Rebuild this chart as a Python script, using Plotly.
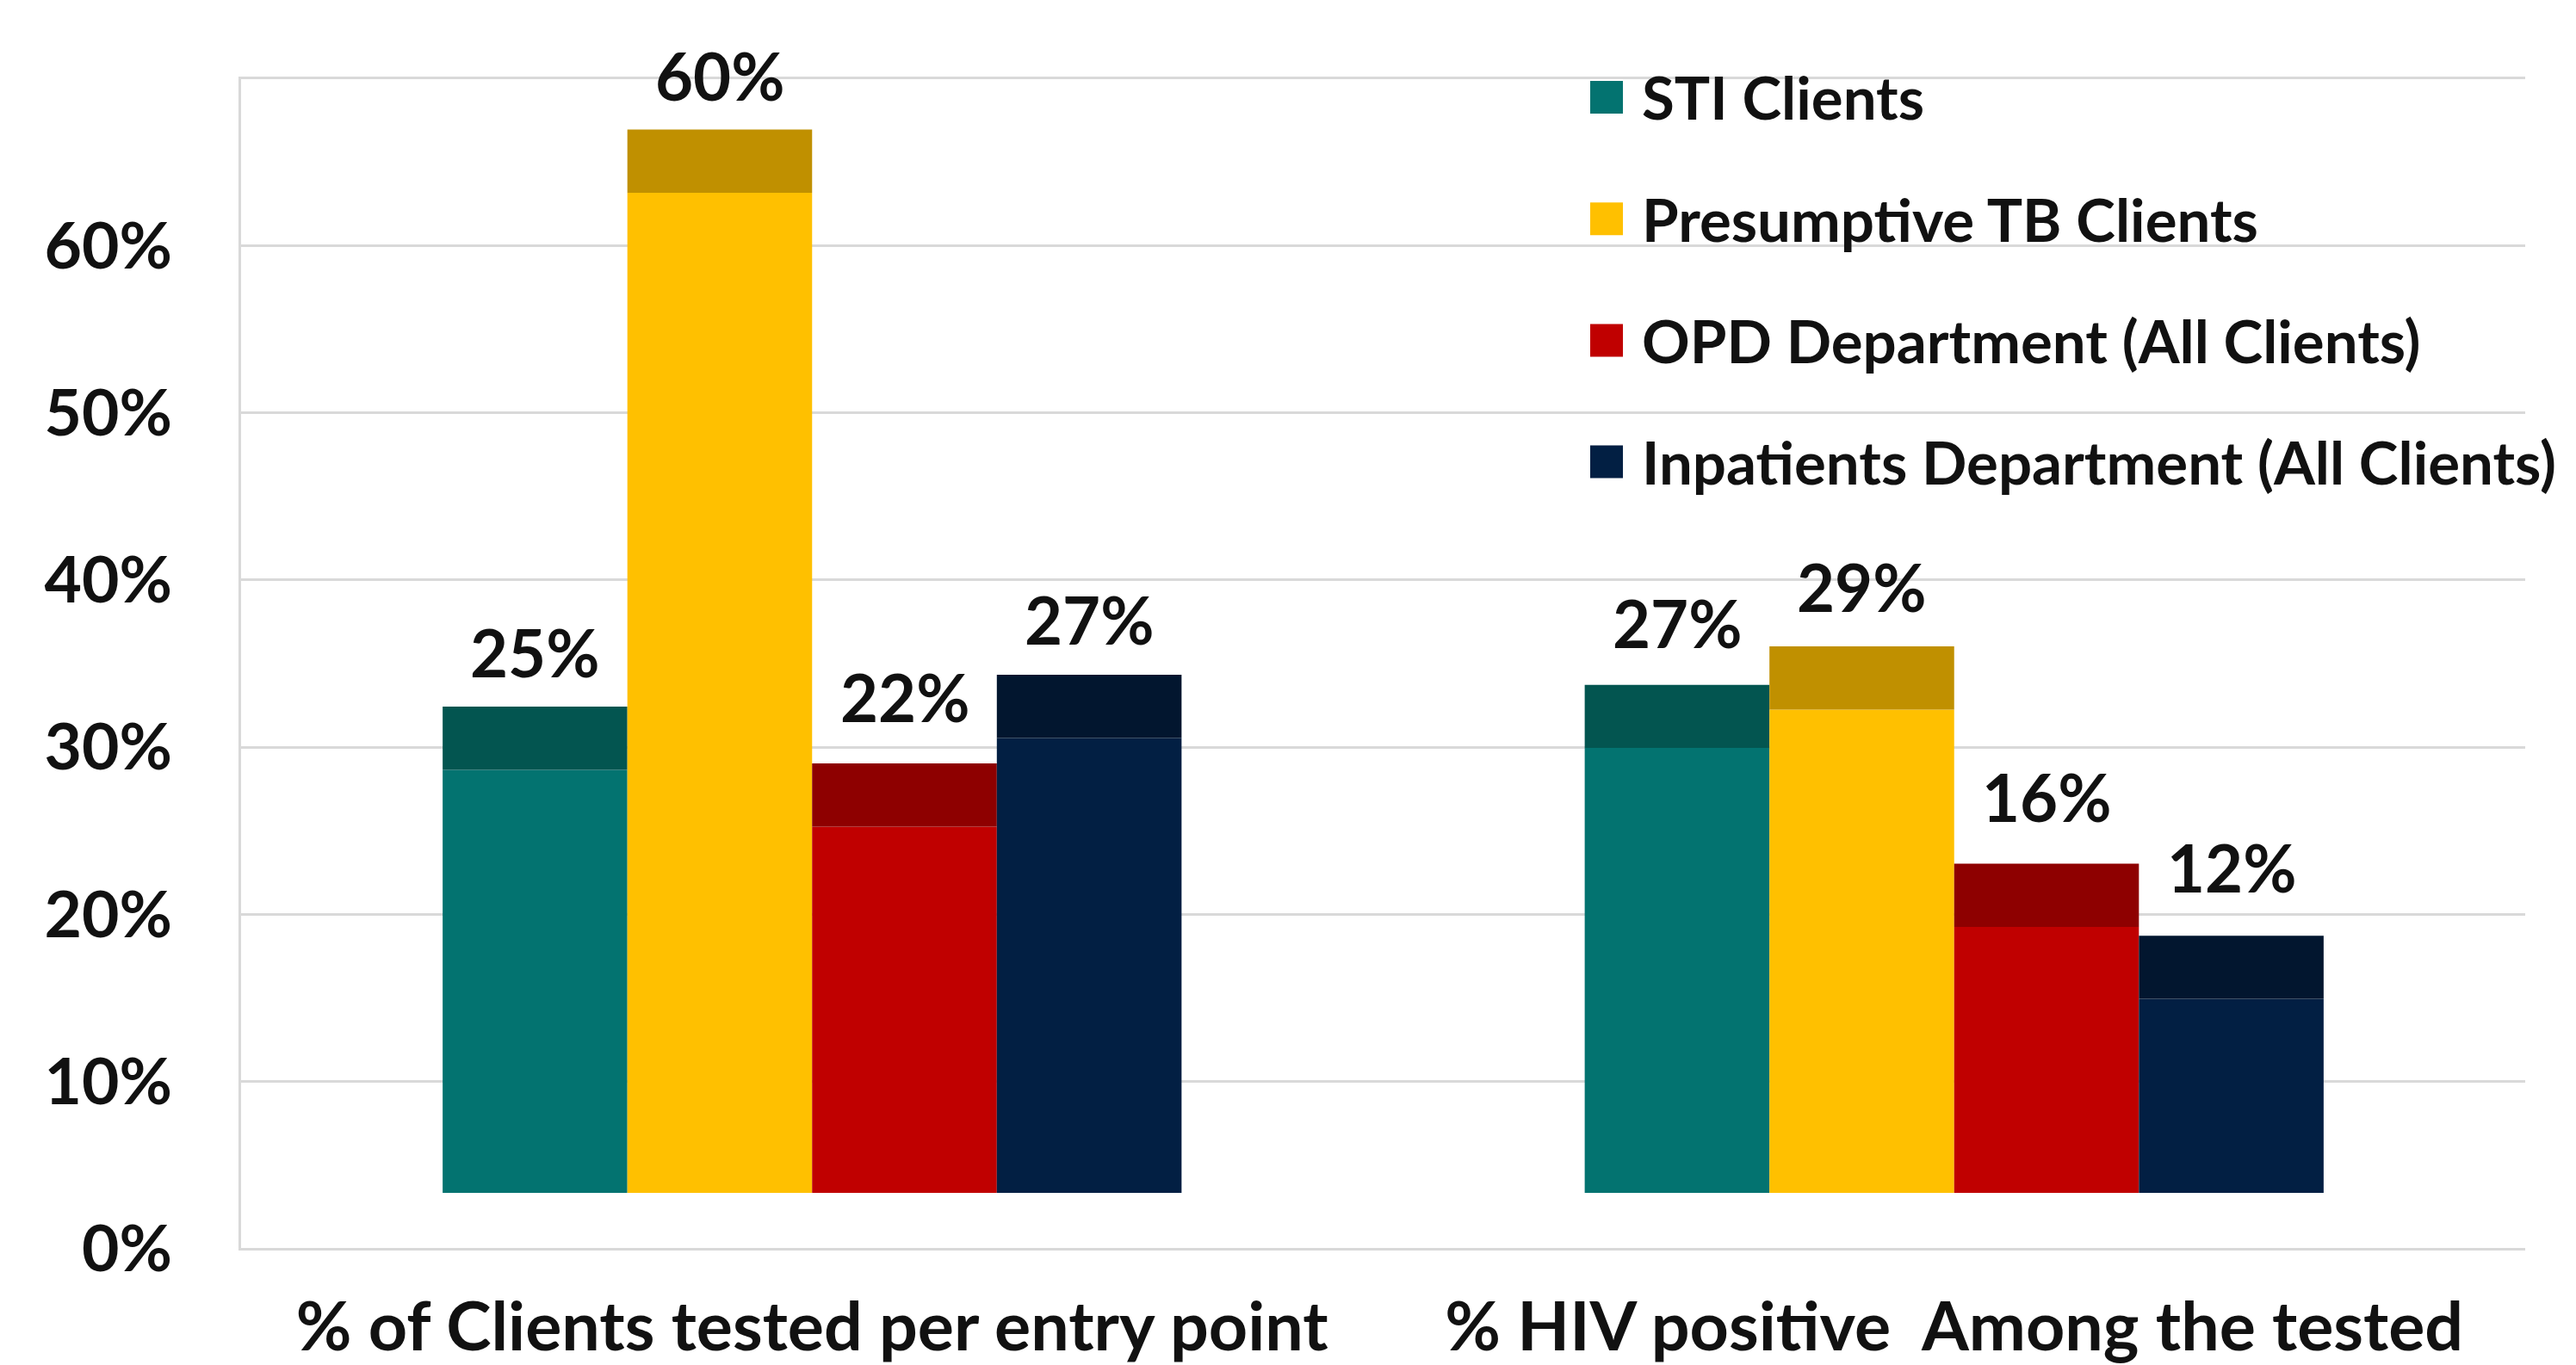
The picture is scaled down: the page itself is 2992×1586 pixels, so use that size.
import plotly.graph_objects as go

# ---------------- data ----------------
CATEGORIES = ["% of Clients tested per entry point", "% HIV positive  Among the tested"]
SERIES = ["STI Clients", "Presumptive TB Clients", "OPD Department (All Clients)",
          "Inpatients Department (All Clients)"]
STI = [25.3, 26.6]
PRESUMPTIVE_TB = [59.8, 28.9]
OPD = [21.9, 15.9]
INPATIENTS = [27.2, 11.6]
VALUES = [STI, PRESUMPTIVE_TB, OPD, INPATIENTS]
TICK_VALUES = [0, 10, 20, 30, 40, 50, 60, 70]
TICK_LABELS = ["0%", "10%", "20%", "30%", "40%", "50%", "60%", ""]

# ---------------- style ----------------
FRONT_COLORS = ["#037370", "#FFC000", "#C00000", "#021F43"]
TOP_COLORS = ["#035550", "#C09000", "#8E0000", "#02162F"]
FLOOR = 3.35   # 3-D floor offset (visual)
DEPTH = 3.78   # visual depth of the bar top face
# vertical gap (px) between bar top and its value label, per series / per category
LABEL_GAP = [[63, 72], [63, 69], [78, 78], [65, 80]]
FONT = "Lato, Carlito, Calibri, 'Open Sans', sans-serif"
TXT = "#111111"
GRID = "#D9D9D9"
BARGAP = 0.353

W, H = 2992, 1586
ML, MR, MT, MB = 280, 59, 89, 133
PLOT_H = H - MT - MB

fig = go.Figure()
n = len(SERIES)
slot = (1 - BARGAP) / n
annotations = []
for i, (name, vals) in enumerate(zip(SERIES, VALUES)):
    fig.add_trace(go.Bar(
        x=CATEGORIES, y=vals, base=FLOOR, name=name, offsetgroup=str(i),
        marker=dict(color=FRONT_COLORS[i], line=dict(width=0)),
        showlegend=False, hoverinfo="skip"))
    fig.add_trace(go.Bar(
        x=CATEGORIES, y=[DEPTH] * len(vals), base=[FLOOR + v for v in vals],
        name=name, offsetgroup=str(i),
        marker=dict(color=TOP_COLORS[i], line=dict(width=0)),
        showlegend=False, hoverinfo="skip"))
    # value labels above each bar
    for c, v in enumerate(vals):
        annotations.append(dict(
            xref="x", yref="y", x=c + (i - (n - 1) / 2) * slot, y=FLOOR + v + DEPTH,
            yshift=LABEL_GAP[i][c], xanchor="center", yanchor="middle", showarrow=False,
            text=f"{round(v)}%",
            font=dict(family=FONT, size=76, color=TXT, weight="bold")))

# manual legend (large square keys like the original)
LEG_KEY_X0, LEG_KEY_W, LEG_TXT_X = 1847, 38, 1905   # px
LEG_ROW0, LEG_STEP, LEG_KEY_H = 113, 141.2, 38      # px


def px_x(px):
    return (px - ML) / (W - ML - MR)


def px_y(py):
    return (H - MB - py) / PLOT_H


shapes = []
for i, name in enumerate(SERIES):
    yc = LEG_ROW0 + i * LEG_STEP
    shapes.append(dict(type="rect", xref="paper", yref="paper",
                       x0=px_x(LEG_KEY_X0), x1=px_x(LEG_KEY_X0 + LEG_KEY_W),
                       y0=px_y(yc + LEG_KEY_H / 2), y1=px_y(yc - LEG_KEY_H / 2),
                       fillcolor=FRONT_COLORS[i], line=dict(width=0), layer="above"))
    annotations.append(dict(xref="paper", yref="paper", x=px_x(LEG_TXT_X), y=px_y(yc),
                            xanchor="left", yanchor="middle", text=name, showarrow=False,
                            font=dict(family=FONT, size=69, color=TXT, weight="bold")))

fig.update_layout(
    width=W, height=H, autosize=False,
    margin=dict(l=ML, r=MR, t=MT, b=MB, pad=0, autoexpand=False),
    paper_bgcolor="white", plot_bgcolor="white",
    barmode="group", bargap=BARGAP, bargroupgap=0,
    showlegend=False,
    shapes=shapes, annotations=annotations,
    font=dict(family=FONT, color=TXT),
    xaxis=dict(showgrid=False, showline=False, ticks="", ticklabelstandoff=36,
               automargin=False,
               tickfont=dict(family=FONT, size=79, color=TXT, weight="bold")),
    yaxis=dict(range=[-0.1, 70.1], tickvals=TICK_VALUES, ticktext=TICK_LABELS,
               showgrid=True, gridcolor=GRID, gridwidth=3, zeroline=False,
               showline=True, linecolor=GRID, linewidth=3, ticks="",
               ticklabelstandoff=62, automargin=False,
               tickfont=dict(family=FONT, size=75, color=TXT, weight="bold")),
)

fig.write_html("out.html", config={"displayModeBar": False},
               post_script="document.body.style.margin='0';")
